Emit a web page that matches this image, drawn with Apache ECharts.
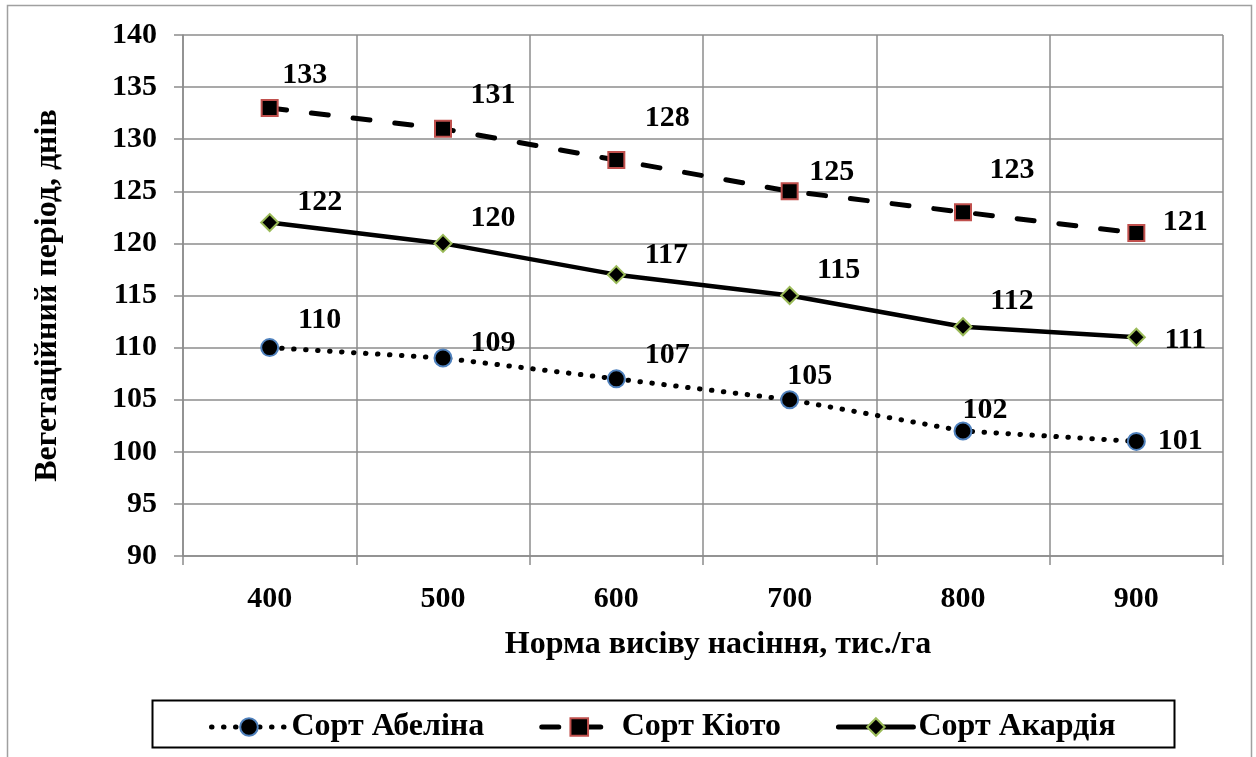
<!DOCTYPE html>
<html>
<head>
<meta charset="utf-8">
<script src="https://cdn.jsdelivr.net/npm/echarts@6/dist/echarts.min.js"></script>
<style>
  html, body { margin: 0; padding: 0; background: #fff; }
  #chart { width: 1256px; height: 757px; }
</style>
</head>
<body>
<div id="chart"></div>
<script>
// Seeding rate (thousand seeds per hectare) on the x axis
const categories = ['400', '500', '600', '700', '800', '900'];

// Vegetation period, days, per variety
const abelina = [110, 109, 107, 105, 102, 101];
const kioto   = [133, 131, 128, 125, 123, 121];
const akardia = [122, 120, 117, 115, 112, 111];

const seriesNames = ['Сорт Абеліна', 'Сорт Кіото', 'Сорт Акардія'];

const FONT = '"Liberation Serif", "Times New Roman", serif';

// Value label placement around each marker (pixel shifts from the marker centre)
const shifts = {
  abelina: [[50, -27], [50, -15], [51, -24], [20, -23], [22, -21], [44, 0]],
  kioto:   [[35, -33], [50, -34], [51, -42], [42, -19], [49, -42], [49, -11]],
  akardia: [[50, -20], [50, -25], [50, -19], [49, -25], [49, -26], [49, 3]]
};

function withLabels(values, shift) {
  return values.map((v, i) => ({
    value: v,
    label: { offset: shift[i] }
  }));
}

const labelStyle = {
  show: true,
  position: 'inside',
  color: '#000',
  fontFamily: FONT,
  fontWeight: 'bold',
  fontSize: 30
};

const GRID = '#8c8c8c';

const dotted = [0.5, 11.5];
const dashed = [17, 25];

const chart = echarts.init(document.getElementById('chart'), null, { renderer: 'canvas' });

chart.setOption({
  backgroundColor: '#fff',
  animation: false,
  graphic: [
    {
      type: 'rect',
      shape: { x: 7.5, y: 5.5, width: 1244, height: 760 },
      style: { fill: 'none', stroke: '#a0a0a0', lineWidth: 1.5 },
      silent: true, z: -1
    },
    {
      type: 'rect',
      shape: { x: 152.5, y: 700.5, width: 1022, height: 47 },
      style: { fill: 'none', stroke: '#000', lineWidth: 2 },
      silent: true
    }
  ],
  grid: { left: 183, right: 33, top: 35, bottom: 201, containLabel: false },
  legend: {
    left: 204,
    top: 706,
    itemWidth: 75,
    itemHeight: 22,
    itemGap: 55,
    lineStyle: { width: 5, cap: 'round' },
    textStyle: { fontFamily: FONT, fontWeight: 'bold', fontSize: 32, color: '#000' },
    data: seriesNames
  },
  xAxis: {
    type: 'category',
    data: categories,
    boundaryGap: true,
    name: 'Норма висіву насіння, тис./га',
    nameLocation: 'middle',
    nameGap: 73,
    nameTextStyle: { fontFamily: FONT, fontWeight: 'bold', fontSize: 32, color: '#000', padding: [0, 0, 0, 30] },
    axisLine: { show: true, lineStyle: { color: GRID, width: 1.5 } },
    axisTick: { show: true, length: 9, inside: false, alignWithLabel: false, lineStyle: { color: GRID, width: 1.5 } },
    axisLabel: { margin: 28, fontFamily: FONT, fontWeight: 'bold', fontSize: 30, color: '#000' },
    splitLine: { show: true, lineStyle: { color: GRID, width: 1.5 } }
  },
  yAxis: {
    type: 'value',
    min: 90,
    max: 140,
    interval: 5,
    name: 'Вегетаційний період, днів',
    nameLocation: 'middle',
    nameGap: 119,
    nameRotate: 90,
    nameTextStyle: { fontFamily: FONT, fontWeight: 'bold', fontSize: 32, color: '#000' },
    axisLine: { show: true, lineStyle: { color: GRID, width: 1.5 } },
    axisTick: { show: true, length: 9, inside: false, lineStyle: { color: GRID, width: 1.5 } },
    axisLabel: { margin: 26, fontFamily: FONT, fontWeight: 'bold', fontSize: 30, color: '#000' },
    splitLine: { show: true, lineStyle: { color: GRID, width: 1.5 } }
  },
  series: [
    {
      name: seriesNames[0],
      type: 'line',
      data: withLabels(abelina, shifts.abelina),
      symbol: 'circle',
      symbolSize: 17,
      itemStyle: { color: '#000', borderColor: '#4f81bd', borderWidth: 2 },
      lineStyle: { color: '#000', width: 5, type: dotted, cap: 'round' },
      label: labelStyle,
      z: 3
    },
    {
      name: seriesNames[1],
      type: 'line',
      data: withLabels(kioto, shifts.kioto),
      symbol: 'rect',
      symbolSize: 16,
      itemStyle: { color: '#000', borderColor: '#c0504d', borderWidth: 2 },
      lineStyle: { color: '#000', width: 5, type: dashed, cap: 'round' },
      label: labelStyle,
      z: 3
    },
    {
      name: seriesNames[2],
      type: 'line',
      data: withLabels(akardia, shifts.akardia),
      symbol: 'diamond',
      symbolSize: 17,
      itemStyle: { color: '#000', borderColor: '#9bbb59', borderWidth: 2 },
      lineStyle: { color: '#000', width: 4.5, type: 'solid', cap: 'round' },
      label: labelStyle,
      z: 3
    }
  ]
});
</script>
</body>
</html>
